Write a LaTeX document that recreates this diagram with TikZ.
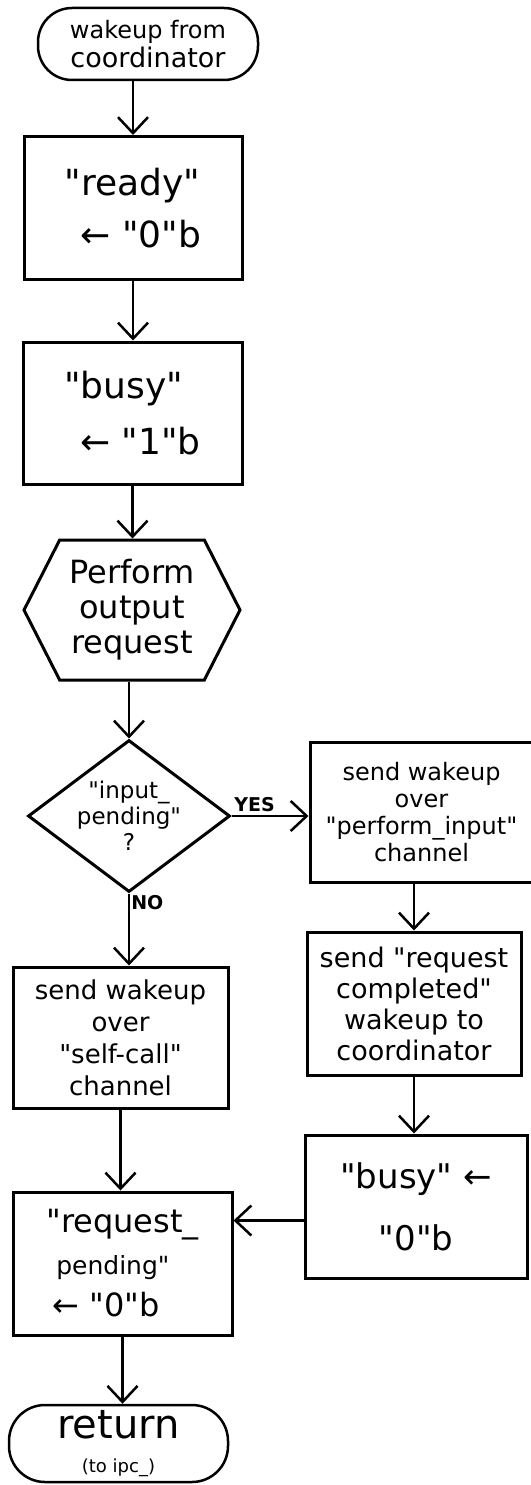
\documentclass[tikz,border=0pt]{standalone}
\usepackage{fontspec}
\setmainfont{DejaVu Sans}[Ligatures=TeXOff]
\usetikzlibrary{arrows.meta,shapes.geometric,shapes.symbols,calc}
\newcommand{\fs}[2]{\fontsize{#1}{#2}\selectfont}
\begin{document}
\begin{tikzpicture}[x=1pt,y=-1pt,
  box/.style={draw,line width=3pt,rectangle,inner sep=2pt,align=center},
  term/.style={draw,line width=2.5pt,rectangle,rounded corners=34pt,align=center,inner sep=2pt},
  arr/.style={line width=2.5pt,-{Straight Barb[length=16pt,width=30pt,line width=2.5pt]}},
  lbl/.style={font=\fs{19}{21}\bfseries,inner sep=1pt}
]
\useasboundingbox (0,0) rectangle (530,1485);
\fill[white] (0,0) rectangle (530,1485);

% main column
\node[term,minimum width=220pt,minimum height=72pt,font=\fs{24}{29}] (start) at (148,44)
  {wakeup from\\\fs{27}{29}coordinator};
\node[box,minimum width=218pt,minimum height=143pt,align=left,font=\fs{36}{52}] (ready) at (133,208)
  {"ready"\\\hspace{16pt}← "0"b};
\node[box,minimum width=219pt,minimum height=142pt,align=left,font=\fs{36}{56}] (busy) at (132.5,413)
  {"busy"\\\hspace{16pt}← "1"b};
\node[draw,line width=3pt,shape=signal,signal to=east and west,signal pointer angle=126,
  minimum width=216pt,minimum height=140pt,inner sep=0pt,align=center,font=\fs{32}{35}] (perf) at (132,610)
  {Perform\\output\\request};
\node[draw,line width=3pt,shape=diamond,minimum width=202pt,minimum height=152pt,inner sep=0pt,
  label={[font=\fs{23}{26},align=center]center:{"input\_\\pending"\\?}}] (dia) at (129,816) {};
\node[box,minimum width=215pt,minimum height=141pt,font=\fs{26}{32}] (self) at (120.5,1037.5)
  {send wakeup\\over\\"self-call"\\channel};
\node[box,minimum width=219pt,minimum height=143pt,align=left,font=\fs{32}{42}] (req) at (122.5,1263.5)
  {"request\_\\\fs{25}{40}\hspace{10pt}pending"\\\fs{32}{46}\hspace{6pt}← "0"b};
\node[term,minimum width=219pt,minimum height=77pt,rounded corners=36pt,font=\fs{40}{34}] (end) at (118.5,1443.5)
  {return\\\fs{18}{22}(to ipc\_)};

% right column
\node[box,minimum width=223pt,minimum height=140pt,font=\fs{24}{27}] (r1) at (421.5,812)
  {send wakeup\\over\\"perform\_input"\\channel};
\node[box,minimum width=214pt,minimum height=143pt,font=\fs{27}{31}] (r2) at (414,1003.5)
  {send "request\\completed"\\wakeup to\\coordinator};
\node[box,minimum width=222pt,minimum height=143pt,font=\fs{34}{62}] (r3) at (416,1206.5)
  {"busy" ←\\"0"b};

% connectors
\draw[arr] (ready.north |- start.south) -- (ready.north);
\draw[arr] (ready.south) -- (ready.south |- busy.north);
\draw[arr] (busy.south) -- (busy.south |- perf.north);
\draw[arr] (perf.south -| dia.north) -- (dia.north);
\draw[arr] (dia.east) -- node[lbl,above,pos=0.3,yshift=2pt] {YES} (dia.east -| r1.west);
\draw[arr] (dia.south) -- node[lbl,right,pos=0.12] {NO} (dia.south |- self.north);
\draw[arr] (r2.north |- r1.south) -- (r2.north);
\draw[arr] (r2.south) -- (r2.south |- r3.north);
\draw[arr] ([yshift=-14pt]r3.west) -- ([yshift=-14pt]r3.west -| req.east);
\draw[arr] (self.south) -- (self.south |- req.north);
\draw[arr] (req.south) -- (req.south |- end.north);
\end{tikzpicture}
\end{document}
